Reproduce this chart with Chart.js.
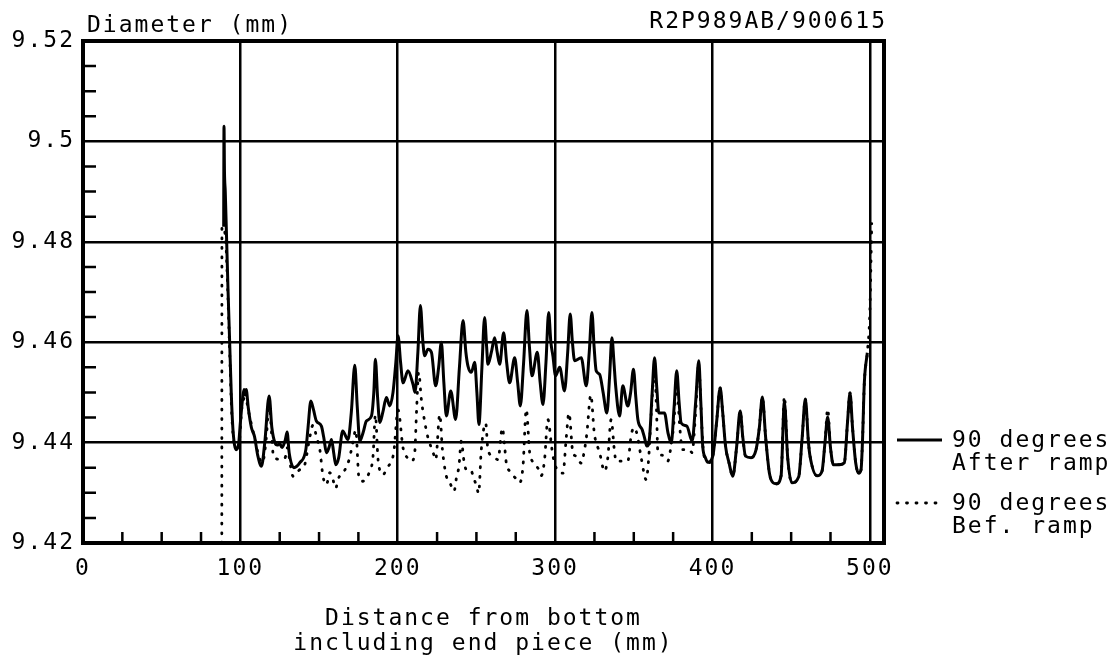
<!DOCTYPE html>
<html>
<head>
<meta charset="utf-8">
<title>Diameter profile R2P989AB</title>
<script src="https://cdn.jsdelivr.net/npm/chart.js@4.4.1/dist/chart.umd.min.js"></script>
<style>
  html, body { margin: 0; padding: 0; background: #fff; }
  canvas { display: block; }
</style>
</head>
<body>
<canvas id="chartId" width="1116" height="655"></canvas>
<script>
// 90 degrees, after ramp (solid)
const afterX = [89.4, 89.6, 89.9, 90.4, 91.3, 92.2, 93.2, 94.2, 95.3, 97.3, 98.8, 100.0, 101.5, 102.3, 103.1, 103.7, 105.0, 107.0, 109.0, 111.0, 113.4, 115.5, 118.3, 120.0, 121.9, 123.5, 125.0, 126.5, 128.5, 129.7, 131.0, 134.0, 137.8, 141.6, 143.0, 144.8, 146.5, 148.3, 151.5, 153.0, 154.7, 156.3, 157.9, 159.3, 160.6, 162.5, 165.0, 168.4, 170.5, 172.7, 174.3, 175.9, 178.0, 180.1, 183.3, 184.8, 185.8, 187.2, 188.6, 190.5, 192.8, 194.9, 197.0, 198.8, 200.2, 201.8, 203.4, 206.5, 209.7, 211.0, 212.8, 214.4, 216.0, 217.1, 219.2, 221.4, 224.1, 226.0, 227.7, 229.3, 230.9, 233.7, 236.8, 239.2, 241.5, 243.3, 244.6, 246.8, 248.9, 250.3, 251.6, 253.5, 255.2, 256.5, 257.3, 259.5, 261.6, 263.2, 264.8, 267.3, 269.2, 271.1, 274.3, 276.2, 277.9, 280.0, 282.1, 283.7, 285.3, 288.7, 290.5, 292.3, 294.2, 295.9, 297.3, 298.6, 300.3, 302.9, 306.0, 308.0, 309.6, 311.0, 312.4, 316.6, 319.8, 321.7, 323.4, 324.8, 326.1, 328.3, 330.5, 332.9, 334.6, 336.1, 337.4, 338.4, 341.0, 343.0, 346.2, 348.0, 349.8, 351.3, 352.6, 355.3, 356.8, 358.3, 360.0, 361.7, 363.2, 364.6, 365.9, 369.5, 371.7, 373.8, 375.6, 377.3, 378.8, 380.1, 383.7, 387.1, 389.3, 391.3, 392.6, 393.8, 395.5, 397.0, 400.2, 402.6, 404.9, 406.5, 408.3, 410.5, 412.9, 415.3, 417.6, 419.3, 421.0, 424.6, 427.7, 429.8, 431.7, 433.8, 436.2, 438.5, 440.6, 443.6, 445.7, 447.8, 450.4, 454.8, 457.0, 459.0, 461.0, 462.0, 466.5, 469.6, 471.5, 473.2, 475.0, 476.8, 480.6, 483.8, 485.8, 487.4, 489.0, 491.0, 492.9, 494.4, 495.3, 496.5, 498.4];
const afterY = [9.483, 9.503, 9.494, 9.490, 9.480, 9.470, 9.460, 9.450, 9.4426, 9.4386, 9.4395, 9.444, 9.449, 9.4506, 9.4495, 9.4506, 9.447, 9.443, 9.4412, 9.4375, 9.4353, 9.440, 9.4493, 9.443, 9.440, 9.4395, 9.4398, 9.439, 9.4405, 9.4421, 9.438, 9.435, 9.436, 9.4386, 9.443, 9.4483, 9.4465, 9.4443, 9.4433, 9.441, 9.438, 9.439, 9.4406, 9.438, 9.4356, 9.437, 9.4423, 9.4406, 9.446, 9.4554, 9.447, 9.4403, 9.442, 9.4443, 9.4453, 9.450, 9.4566, 9.449, 9.444, 9.446, 9.449, 9.4473, 9.450, 9.456, 9.4613, 9.456, 9.4519, 9.4543, 9.4516, 9.450, 9.458, 9.4673, 9.460, 9.4573, 9.4586, 9.458, 9.4513, 9.455, 9.460, 9.452, 9.4453, 9.4503, 9.4446, 9.455, 9.4643, 9.458, 9.4553, 9.454, 9.456, 9.450, 9.4436, 9.455, 9.4649, 9.459, 9.4556, 9.458, 9.4609, 9.458, 9.4556, 9.4619, 9.456, 9.4519, 9.4569, 9.452, 9.4473, 9.456, 9.4663, 9.459, 9.4533, 9.458, 9.452, 9.4476, 9.456, 9.4659, 9.460, 9.4573, 9.4533, 9.455, 9.4503, 9.458, 9.4656, 9.460, 9.4563, 9.4569, 9.4513, 9.458, 9.4659, 9.459, 9.4543, 9.4536, 9.450, 9.4459, 9.453, 9.4609, 9.456, 9.4516, 9.4453, 9.4513, 9.4473, 9.450, 9.4546, 9.449, 9.4446, 9.4426, 9.441, 9.4393, 9.441, 9.450, 9.4569, 9.451, 9.4459, 9.4459, 9.442, 9.4399, 9.447, 9.4543, 9.448, 9.4439, 9.4433, 9.4403, 9.448, 9.4563, 9.448, 9.4393, 9.437, 9.4361, 9.4373, 9.444, 9.4509, 9.446, 9.4393, 9.436, 9.4333, 9.439, 9.4463, 9.441, 9.4373, 9.437, 9.4386, 9.443, 9.4491, 9.441, 9.4339, 9.432, 9.4318, 9.4334, 9.4481, 9.437, 9.432, 9.4332, 9.441, 9.4487, 9.440, 9.4373, 9.4334, 9.4343, 9.440, 9.4451, 9.439, 9.4356, 9.4356, 9.436, 9.444, 9.4499, 9.443, 9.436, 9.4339, 9.4346, 9.440, 9.4519, 9.4579];

// 90 degrees, before ramp (dotted)
const beforeX = [88.2, 88.3, 90.5, 92.0, 93.0, 94.0, 95.0, 97.0, 99.0, 101.0, 103.0, 106.0, 109.0, 112.0, 114.0, 116.5, 118.3, 120.0, 121.0, 124.6, 128.3, 130.0, 131.5, 133.5, 137.3, 140.9, 143.5, 146.2, 148.5, 150.5, 152.5, 154.7, 156.8, 158.5, 160.6, 162.1, 166.3, 169.1, 171.5, 173.3, 175.4, 178.0, 181.8, 184.3, 185.8, 187.5, 190.7, 193.1, 195.9, 197.5, 200.2, 203.4, 206.0, 208.7, 210.8, 212.0, 213.3, 215.0, 217.8, 219.2, 222.4, 224.1, 226.7, 228.4, 230.9, 233.4, 235.8, 237.3, 238.9, 240.4, 242.1, 243.6, 246.3, 248.3, 250.0, 251.4, 253.1, 255.9, 257.3, 260.5, 263.7, 266.5, 267.9, 269.0, 271.1, 274.9, 277.5, 279.6, 281.7, 283.8, 285.5, 289.1, 291.2, 293.3, 295.4, 297.9, 299.5, 302.2, 305.0, 307.1, 308.8, 311.3, 313.4, 316.6, 318.7, 320.2, 322.7, 324.9, 328.3, 331.4, 333.5, 335.6, 337.8, 338.8, 342.0, 346.2, 348.4, 350.5, 352.5, 354.7, 357.9, 359.4, 361.1, 363.2, 364.5, 365.3, 368.0, 371.6, 373.0, 375.5, 377.3, 379.0, 381.0, 385.4, 387.0, 389.3, 391.3, 392.7, 394.0, 396.0, 398.0, 400.2, 402.6, 404.9, 406.5, 408.3, 410.5, 412.9, 415.3, 417.6, 419.3, 421.0, 424.6, 427.7, 429.8, 431.7, 433.8, 436.2, 438.5, 440.6, 443.6, 445.7, 447.8, 450.4, 454.8, 457.0, 459.0, 461.0, 462.0, 466.5, 469.6, 471.5, 473.2, 475.0, 476.8, 480.6, 483.8, 485.8, 487.4, 489.0, 491.0, 492.9, 494.4, 495.3, 496.5, 498.4, 500.0, 501.2];
const beforeY = [9.420, 9.483, 9.481, 9.470, 9.460, 9.450, 9.443, 9.439, 9.4395, 9.447, 9.449, 9.445, 9.441, 9.437, 9.436, 9.441, 9.448, 9.441, 9.4373, 9.4367, 9.4369, 9.439, 9.436, 9.4333, 9.4345, 9.4356, 9.440, 9.4435, 9.441, 9.4386, 9.4333, 9.4316, 9.434, 9.433, 9.4309, 9.4327, 9.4345, 9.4366, 9.440, 9.4425, 9.4329, 9.4323, 9.434, 9.4373, 9.4455, 9.4366, 9.4336, 9.4349, 9.4363, 9.4381, 9.4465, 9.4389, 9.437, 9.4363, 9.438, 9.4466, 9.454, 9.4486, 9.443, 9.441, 9.4381, 9.4366, 9.4456, 9.4386, 9.4333, 9.4318, 9.4303, 9.433, 9.4353, 9.4403, 9.4363, 9.4346, 9.4346, 9.4329, 9.4314, 9.4299, 9.4386, 9.4439, 9.4386, 9.4373, 9.4366, 9.4429, 9.4393, 9.4359, 9.4343, 9.4329, 9.432, 9.4353, 9.4466, 9.4381, 9.4363, 9.4349, 9.4334, 9.4366, 9.4446, 9.4389, 9.436, 9.4343, 9.4339, 9.441, 9.4459, 9.438, 9.4373, 9.4359, 9.4386, 9.4419, 9.4495, 9.4419, 9.438, 9.4343, 9.437, 9.4446, 9.438, 9.4363, 9.4363, 9.4363, 9.4416, 9.443, 9.441, 9.437, 9.4326, 9.4366, 9.4459, 9.4545, 9.446, 9.438, 9.4375, 9.4363, 9.438, 9.444, 9.4525, 9.444, 9.4386, 9.4386, 9.438, 9.446, 9.4555, 9.447, 9.439, 9.4365, 9.436, 9.4373, 9.444, 9.4509, 9.446, 9.4393, 9.436, 9.4333, 9.439, 9.4463, 9.441, 9.4373, 9.437, 9.4386, 9.443, 9.4491, 9.441, 9.4339, 9.432, 9.4318, 9.4334, 9.4492, 9.437, 9.432, 9.4332, 9.441, 9.4487, 9.440, 9.4373, 9.4334, 9.4343, 9.440, 9.4467, 9.439, 9.4356, 9.4356, 9.436, 9.444, 9.4499, 9.443, 9.436, 9.4339, 9.4346, 9.440, 9.4519, 9.4579, 9.466, 9.4836];

const xTicks = [0, 100, 200, 300, 400, 500];
const yTicks = [9.42, 9.44, 9.46, 9.48, 9.5, 9.52];
const legendLines = [["90 degrees", "After ramp"], ["90 degrees", "Bef. ramp"]];

const FONT = "'DejaVu Sans Mono', monospace";
const toPoints = (xs, ys) => xs.map((x, i) => ({ x: x, y: ys[i] }));

// frame, inside minor ticks, header texts and the side legend
const plotterStyle = {
  id: "plotterStyle",
  beforeUpdate(chart) { chart.ctx.letterSpacing = "2px"; },
  beforeDraw(chart) { chart.ctx.letterSpacing = "2px"; },
  afterDraw(chart) {
    const ctx = chart.ctx;
    const a = chart.chartArea;
    const x = chart.scales.x;
    const y = chart.scales.y;
    ctx.save();
    ctx.strokeStyle = "#000";
    ctx.fillStyle = "#000";

    ctx.lineWidth = 2.5;
    ctx.beginPath();
    for (let k = 1; k < 20; k++) {
      if (k % 4 === 0) continue;
      const py = y.getPixelForValue(9.42 + k * 0.005);
      ctx.moveTo(a.left, py);
      ctx.lineTo(a.left + 13, py);
    }
    for (let k = 1; k <= 20; k++) {
      if (k % 4 === 0) continue;
      const px = x.getPixelForValue(k * 25);
      ctx.moveTo(px, a.bottom);
      ctx.lineTo(px, a.bottom - 11);
    }
    ctx.stroke();

    ctx.lineWidth = 4;
    ctx.strokeRect(a.left, a.top, a.right - a.left, a.bottom - a.top);

    ctx.font = "23px " + FONT;
    ctx.textBaseline = "alphabetic";
    ctx.textAlign = "left";
    ctx.fillText("Diameter (mm)", a.left + 4, 32);
    ctx.textAlign = "right";
    ctx.fillText("R2P989AB/900615", a.right + 3, 28);

    // legend entries
    const rows = [440, 503];
    chart.data.datasets.forEach((ds, i) => {
      const ly = rows[i];
      ctx.save();
      ctx.lineWidth = ds.borderWidth;
      ctx.lineCap = ds.borderCapStyle || "butt";
      ctx.setLineDash(ds.borderDash || []);
      ctx.beginPath();
      ctx.moveTo(a.right + 13, ly);
      ctx.lineTo(a.right + 58, ly);
      ctx.stroke();
      ctx.restore();
      ctx.textAlign = "left";
      legendLines[i].forEach((t, j) => ctx.fillText(t, a.right + 68, ly + 7 + j * 23));
    });
    ctx.restore();
  }
};

new Chart(document.getElementById("chartId"), {
  type: "line",
  data: {
    datasets: [
      {
        label: legendLines[0].join(" "),
        data: toPoints(afterX, afterY),
        borderColor: "#000",
        borderWidth: 3,
        pointRadius: 0,
        cubicInterpolationMode: "monotone",
        borderJoinStyle: "round",
      },
      {
        label: legendLines[1].join(" "),
        data: toPoints(beforeX, beforeY),
        borderColor: "#000",
        borderWidth: 2.8,
        borderDash: [1, 8.5],
        borderCapStyle: "round",
        pointRadius: 0,
        cubicInterpolationMode: "monotone",
      },
    ],
  },
  options: {
    responsive: false,
    animation: false,
    devicePixelRatio: 1,
    layout: { padding: { left: 0, top: 41, right: 232, bottom: 0 } },
    plugins: {
      legend: { display: false },
      tooltip: { enabled: false },
    },
    scales: {
      x: {
        type: "linear",
        min: 0,
        max: 509,
        afterBuildTicks: (s) => { s.ticks = xTicks.map((v) => ({ value: v })); },
        afterFit: (s) => { s.height = 112; },
        border: { display: false },
        grid: { color: "#000", lineWidth: 2.5, drawTicks: false },
        ticks: {
          color: "#000",
          font: { family: FONT, size: 23 },
          padding: 12,
          maxRotation: 0,
          autoSkip: false,
        },
        title: {
          display: true,
          text: ["Distance from bottom", "including end piece (mm)"],
          color: "#000",
          font: { family: FONT, size: 23, lineHeight: 1.09 },
          padding: { top: 0, bottom: -2 },
        },
      },
      y: {
        type: "linear",
        min: 9.42,
        max: 9.52,
        afterBuildTicks: (s) => { s.ticks = yTicks.map((v) => ({ value: v })); },
        afterFit: (s) => { s.width = 83; },
        border: { display: false },
        grid: { color: "#000", lineWidth: 2.5, drawTicks: false },
        ticks: {
          color: "#000",
          font: { family: FONT, size: 23 },
          padding: 8,
          callback: (v) => String(v),
        },
      },
    },
  },
  plugins: [plotterStyle],
});
</script>
</body>
</html>
